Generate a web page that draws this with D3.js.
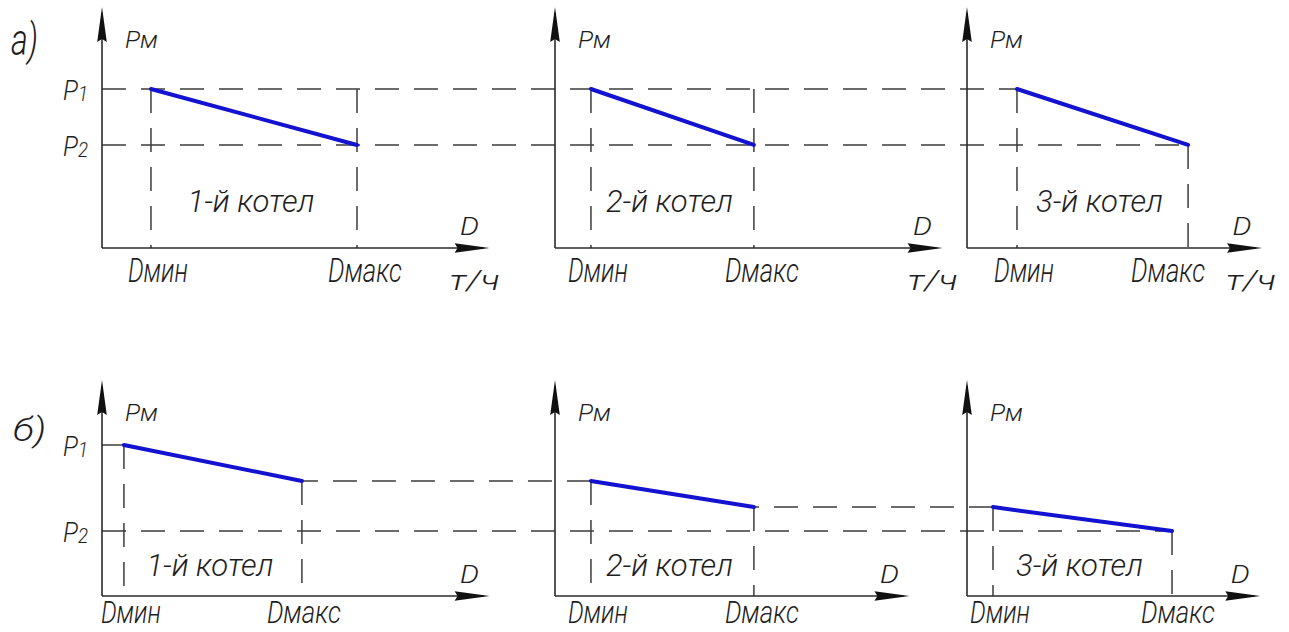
<!DOCTYPE html>
<html><head><meta charset="utf-8">
<script src="https://cdn.jsdelivr.net/npm/d3@7"></script>
<style>
html,body{margin:0;padding:0;background:#fff;}
svg{display:block;}
text{font-family:Roboto,"DejaVu Sans",sans-serif;font-style:italic;font-weight:300;fill:#1e1e1e;}
</style></head><body>
<svg id="c" width="1289" height="632"></svg>
<script>
// ---------- data ----------
const boilers = ["1-й котел", "2-й котел", "3-й котел"];
const rowTags = ["а)", "б)"];
const yName = "Pм";
const xName = "D";
const xUnit = "т/ч";
const dMinName = "Dмин";
const dMaxName = "Dмакс";
const pSubs = ["1", "2"];

// row а): every boiler runs between P1 and P2
const dMinA = [19.2, 14.1, 19.6];
const dMaxA = [100, 78, 86.7];
const pStartA = [1, 1, 1];
const pEndA = [0.648, 0.648, 0.648];
const dMaxGuideTopA = [1, 1, 0.648];
const pLevelsA = [1, 0.648];
const xAxisEndA = [152, 152, 115.7];

// row б): boilers in series, pressure cascades from P1 to P2
const dMinB = [8.6, 14.1, 10.2];
const dMaxB = [78.4, 78, 80.4];
const pStartB = [1, 0.762, 0.589];
const pEndB = [0.762, 0.589, 0.430];
const pLevelsB = [1, 0.430];
const xAxisEndB = [152, 139, 115];

// ---------- layout ----------
const svg = d3.select("#c");
const origins = [102, 555, 967];
const unitPx = 2.55;
const xScales = origins.map(o => d3.scaleLinear().domain([0, 100]).range([o, o + 100 * unitPx]));
const yA = d3.scaleLinear().domain([0, 1]).range([248, 89]);
const yB = d3.scaleLinear().domain([0, 1]).range([596, 445]);
const yTipA = 1.516, yTipB = 1.43;

const AX = "#2a2a2a", DASH = "#3c3c3c", BLUE = "#1212d0";
const dashArr = "24,15";
const arrowLen = 35, arrowHalf = 4.8;

const gGuides = svg.append("g");
const gAxes = svg.append("g");
const gLines = svg.append("g");
const gText = svg.append("g");

function hDash(x1, x2, y) {
  gGuides.append("line").attr("x1", x1).attr("x2", x2).attr("y1", y).attr("y2", y)
    .attr("stroke", DASH).attr("stroke-width", 1.5).attr("stroke-dasharray", dashArr);
}
function vDash(x, y1, y2) {
  gGuides.append("line").attr("x1", x).attr("x2", x).attr("y1", y1).attr("y2", y2)
    .attr("stroke", DASH).attr("stroke-width", 1.5).attr("stroke-dasharray", dashArr);
}
function txt(s, x, y, size, width, anchor) {
  const t = gText.append("text").attr("x", x).attr("y", y).attr("font-size", size)
    .attr("text-anchor", anchor || "start").text(s);
  if (width) t.attr("textLength", width).attr("lengthAdjust", "spacingAndGlyphs");
  return t;
}
function pLabel(sub, xRight, y) {
  const t = gText.append("text").attr("x", xRight).attr("y", y).attr("font-size", 28)
    .attr("text-anchor", "end").attr("textLength", 25).attr("lengthAdjust", "spacingAndGlyphs");
  t.append("tspan").text("P");
  t.append("tspan").attr("font-size", 21).attr("dy", 1).text(sub);
}
function axes(i, yS, yTip, xEnd) {
  const xs = xScales[i];
  const x0 = xs(0), y0 = yS(0), yt = yS(yTip), xe = xs(xEnd);
  gAxes.append("line").attr("x1", x0).attr("x2", x0).attr("y1", y0).attr("y2", yt + 6)
    .attr("stroke", AX).attr("stroke-width", 1.6);
  gAxes.append("line").attr("x1", x0).attr("x2", xe - 6).attr("y1", y0).attr("y2", y0)
    .attr("stroke", AX).attr("stroke-width", 1.6);
  gAxes.append("path").attr("d", `M${x0},${yt}L${x0 - arrowHalf},${yt + arrowLen}L${x0},${yt + arrowLen - 3}L${x0 + arrowHalf},${yt + arrowLen}Z`)
    .attr("fill", "#111");
  gAxes.append("path").attr("d", `M${xe},${y0}L${xe - arrowLen},${y0 - arrowHalf}L${xe - arrowLen + 3},${y0}L${xe - arrowLen},${y0 + arrowHalf}Z`)
    .attr("fill", "#111");
  txt(yName, x0 + 23, yt + 41, 23, 33);
  txt(xName, xe - 20, y0 - 13, 25, 19, "middle");
}
function boiler(i, yS, dMin, dMax, pS, pE, guideTop, dMaxShift, labDy, labSize) {
  const xs = xScales[i];
  vDash(xs(dMin), yS(pS), yS(0));
  vDash(xs(dMax), yS(guideTop), yS(0));
  gLines.append("line").attr("x1", xs(dMin)).attr("y1", yS(pS)).attr("x2", xs(dMax)).attr("y2", yS(pE))
    .attr("stroke", BLUE).attr("stroke-width", 4).attr("stroke-linecap", "round");
  const mid = (xs(dMin) + xs(dMax)) / 2 - 3;
  txt(boilers[i], mid, yS(0) - 36 + (yS === yB ? 16 : 0), 31, 127, "middle");
  txt(dMinName, xs(dMin) + 7, yS(0) + labDy, labSize, 60, "middle");
  txt(dMaxName, xs(dMax) + dMaxShift, yS(0) + labDy, labSize, 74, "middle");
}

// ---------- row а) ----------
[0, 1, 2].forEach(i => axes(i, yA, yTipA, xAxisEndA[i]));
hDash(xScales[0](0), xScales[2](dMinA[2]), yA(pLevelsA[0]));
hDash(xScales[0](0), xScales[2](dMaxA[2]), yA(pLevelsA[1]));
const shiftA = [8, 8, -20];
[0, 1, 2].forEach(i => boiler(i, yA, dMinA[i], dMaxA[i], pStartA[i], pEndA[i], dMaxGuideTopA[i], shiftA[i], 34, 34));
const unitShift = [-15, -10, -11];
[0, 1, 2].forEach(i => txt(xUnit, xScales[i](xAxisEndA[i]) + unitShift[i], yA(0) + 42, 27, 50, "middle"));
pLevelsA.forEach((p, k) => pLabel(pSubs[k], origins[0] - 14, yA(p) + 11));
txt(rowTags[0], 11, 55, 44, 27);

// ---------- row б) ----------
[0, 1, 2].forEach(i => axes(i, yB, yTipB, xAxisEndB[i]));
hDash(xScales[0](dMinB[0]), xScales[0](0), yB(pLevelsB[0]));
hDash(xScales[0](0), xScales[2](dMaxB[2]), yB(pLevelsB[1]));
[0, 1].forEach(i => hDash(xScales[i + 1](dMinB[i + 1]), xScales[i](dMaxB[i]), yB(pEndB[i])));
const shiftB = [2, 8, 6];
[0, 1, 2].forEach(i => boiler(i, yB, dMinB[i], dMaxB[i], pStartB[i], pEndB[i], pEndB[i], shiftB[i], 27, 31));
pLevelsB.forEach((p, k) => pLabel(pSubs[k], origins[0] - 14, yB(p) + 11));
txt(rowTags[1], 13, 441, 34, 33);
</script>
</body></html>
